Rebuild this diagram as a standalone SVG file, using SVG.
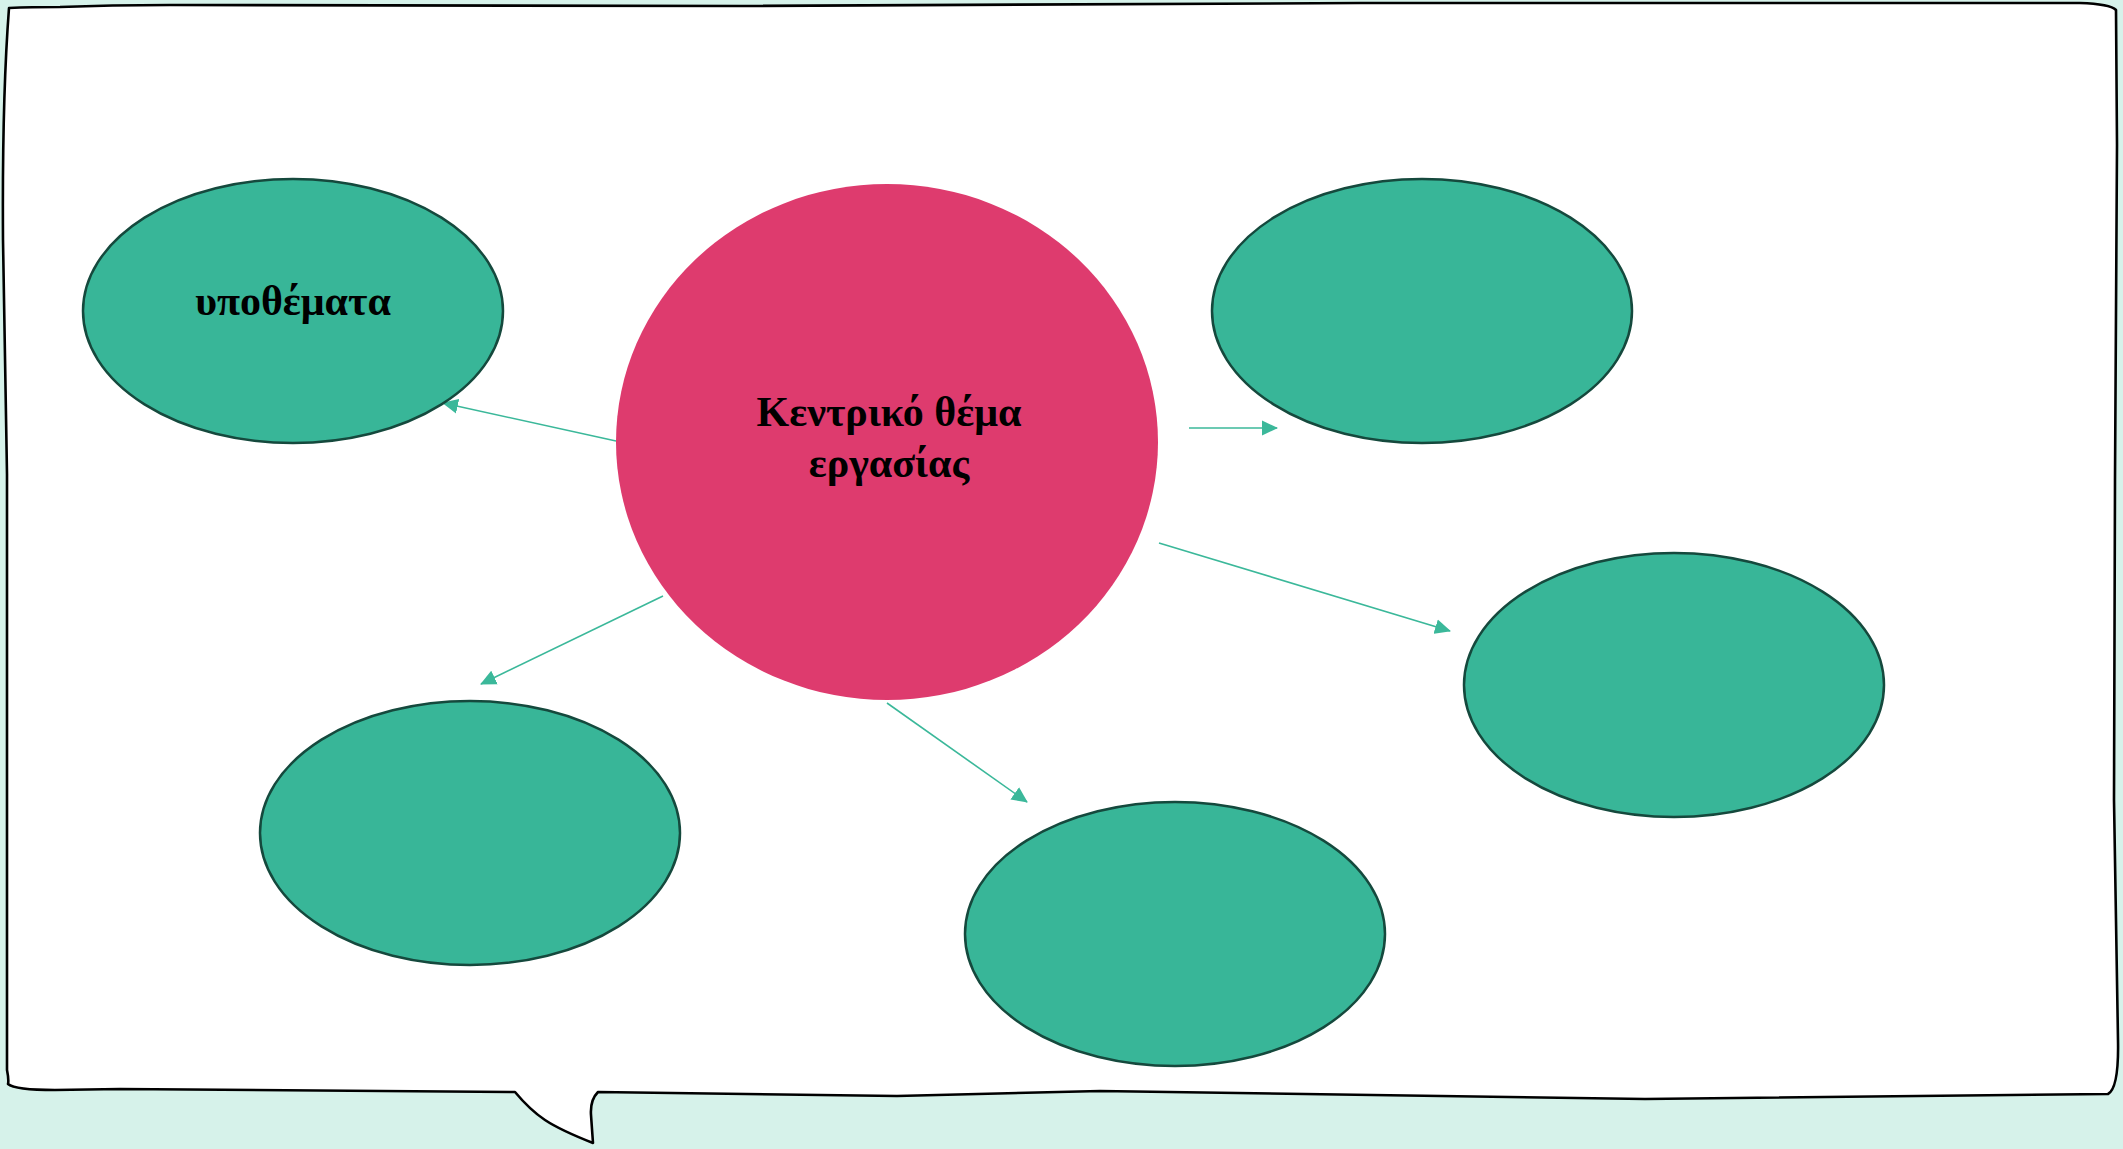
<svg xmlns="http://www.w3.org/2000/svg" width="2123" height="1149" viewBox="0 0 2123 1149">
  <style>
    .sub { fill: #38B698; stroke: #15493D; stroke-width: 2.5; }
    .lbl { font-family: "Liberation Serif", "Times New Roman", serif; font-weight: bold; font-size: 42px; fill: #000; text-anchor: middle; }
    .conn { stroke: #3BB89A; stroke-width: 1.6; fill: none; marker-end: url(#arr); }
  </style>
  <defs>
    <marker id="arr" markerUnits="userSpaceOnUse" markerWidth="16" markerHeight="16" refX="15" refY="8" orient="auto">
      <path d="M0,0.5 L16,8 L0,15.5 Z" fill="#3BB89A"/>
    </marker>
  </defs>
  <rect x="0" y="0" width="2123" height="1149" fill="#D6F2EA"/>
  <g id="bubble">
    <path d="M9,8 Q30,7 60,7 Q110,5 170,5 L740,6 L1360,3 L2080,3 Q2110,4 2116,10 L2117,145 L2115,480 L2114,800 L2118,1040 Q2119,1088 2108,1094 L1645,1099 L1100,1091 L897,1096 L598,1092 Q590,1100 591,1115 L593,1143 Q560,1130 545,1120 Q530,1110 515,1092 L120,1089 L55,1090 Q15,1090 8,1084 Q9,1080 7,1070 L7,474 Q4,300 3,240 Q2,100 9,8 Z" fill="#FFFFFF" stroke="#000" stroke-width="2.6" stroke-linejoin="round"/>
  </g>
  <g id="connectors">
    <line class="conn" x1="616" y1="441" x2="443" y2="403"/>
    <line class="conn" x1="1189" y1="428" x2="1277" y2="428"/>
    <line class="conn" x1="1159" y1="543" x2="1450" y2="631"/>
    <line class="conn" x1="663" y1="596" x2="481" y2="684"/>
    <line class="conn" x1="887" y1="703" x2="1027" y2="802"/>
  </g>
  <g id="node-center">
    <ellipse cx="887" cy="442" rx="271" ry="258" fill="#DE3B6E"/>
    <text class="lbl" x="889" y="426">Κεντρικό θέμα</text>
    <text class="lbl" x="889" y="477">εργασίας</text>
  </g>
  <g id="node-ypothemata">
    <ellipse class="sub" cx="293" cy="311" rx="210" ry="132"/>
    <text class="lbl" x="293" y="315">υποθέματα</text>
  </g>
  <g id="node-top-right">
    <ellipse class="sub" cx="1422" cy="311" rx="210" ry="132"/>
  </g>
  <g id="node-right">
    <ellipse class="sub" cx="1674" cy="685" rx="210" ry="132"/>
  </g>
  <g id="node-bottom-left">
    <ellipse class="sub" cx="470" cy="833" rx="210" ry="132"/>
  </g>
  <g id="node-bottom-middle">
    <ellipse class="sub" cx="1175" cy="934" rx="210" ry="132"/>
  </g>
</svg>
